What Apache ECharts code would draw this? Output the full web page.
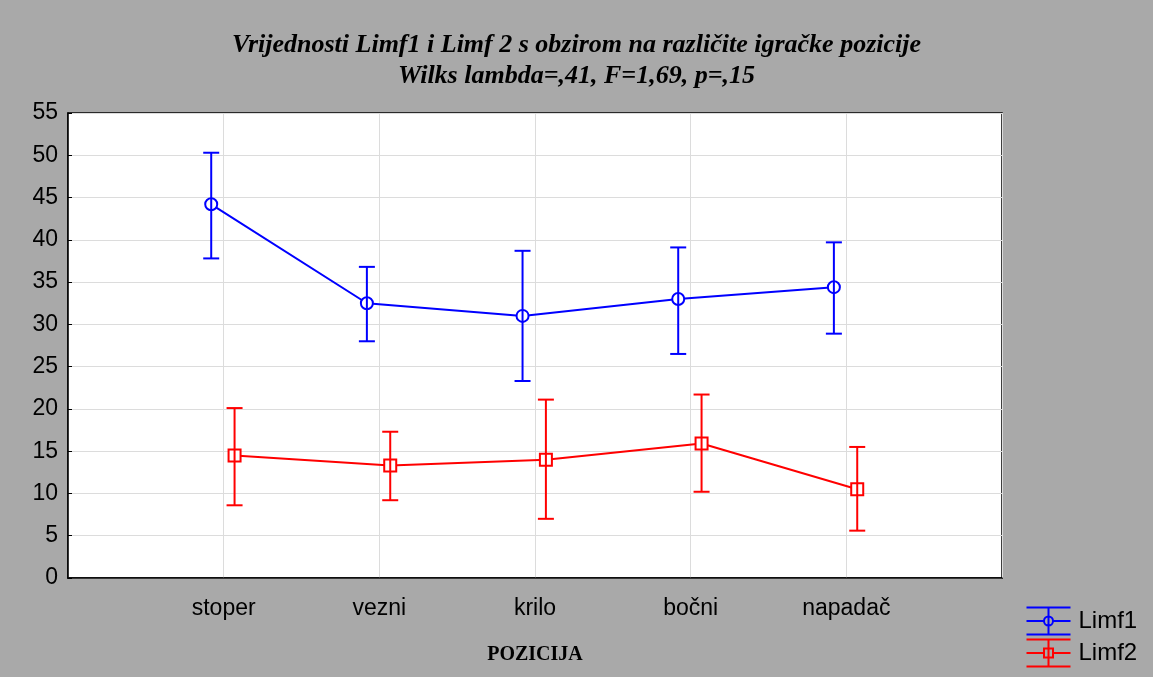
<!DOCTYPE html>
<html>
<head>
<meta charset="utf-8">
<script src="https://cdn.jsdelivr.net/npm/echarts@6/dist/echarts.min.js"></script>
<style>
html,body{margin:0;padding:0;background:#a9a9a9;}
#c{width:1153px;height:677px;}
</style>
</head>
<body>
<div id="c"></div>
<script>
const categories = ['stoper', 'vezni', 'krilo', 'bočni', 'napadač'];
const limf1Mean  = [44.2, 32.5, 31.0, 33.0, 34.4];
const limf1Upper = [50.3, 36.8, 38.7, 39.1, 39.7];
const limf1Lower = [37.8, 28.0, 23.3, 26.5, 28.9];
const limf2Mean  = [14.5, 13.3, 14.0, 15.9, 10.5];
const limf2Upper = [20.1, 17.3, 21.1, 21.7, 15.5];
const limf2Lower = [8.6, 9.2, 7.0, 10.2, 5.6];
const yTicks = [0, 5, 10, 15, 20, 25, 30, 35, 40, 45, 50, 55];

const OFF1 = -0.08, OFF2 = 0.07;

function pts(mean, off) { return mean.map((v, i) => [i + 1 + off, v]); }
function bars(lo, hi, off) { return lo.map((v, i) => [i + 1 + off, v, hi[i]]); }

function errRender(color) {
  return function (params, api) {
    const x = api.value(0);
    const lo = api.coord([x, api.value(1)]);
    const hi = api.coord([x, api.value(2)]);
    const hw = 8;
    const st = { stroke: color, lineWidth: 2 };
    return {
      type: 'group',
      children: [
        { type: 'line', shape: { x1: lo[0], y1: lo[1], x2: hi[0], y2: hi[1] }, style: st },
        { type: 'line', shape: { x1: lo[0] - hw, y1: lo[1], x2: lo[0] + hw, y2: lo[1] }, style: st },
        { type: 'line', shape: { x1: hi[0] - hw, y1: hi[1], x2: hi[0] + hw, y2: hi[1] }, style: st }
      ]
    };
  };
}

const icon1 = 'path://M0,0H44M0,13.5H17.5M26.5,13.5H44M0,27H44M22,0V9M22,18V27M26.5,13.5A4.5,4.5,0,1,1,17.5,13.5A4.5,4.5,0,1,1,26.5,13.5M22,9V18';
const icon2 = 'path://M0,0H44M0,13.5H17.5M26.5,13.5H44M0,27H44M22,0V9M22,18V27M17.5,9H26.5V18H17.5ZM22,9V18';

const chart = echarts.init(document.getElementById('c'));
chart.setOption({
  backgroundColor: '#a9a9a9',
  animation: false,
  title: {
    text: 'Vrijednosti Limf1 i Limf 2 s obzirom na različite igračke pozicije\nWilks lambda=,41, F=1,69, p=,15',
    left: 'center',
    top: 25,
    textStyle: {
      fontFamily: 'Liberation Serif',
      fontStyle: 'italic',
      fontWeight: 'bold',
      fontSize: 26,
      lineHeight: 31,
      color: '#000'
    }
  },
  legend: {
    left: 1024,
    top: 605,
    height: 120,
    padding: 0,
    orient: 'vertical',
    itemWidth: 44,
    itemHeight: 27,
    itemGap: 0,
    textStyle: { fontFamily: 'Liberation Sans', fontSize: 24, color: '#000', lineHeight: 27, padding: [0, 0, 0, 3] },
    data: [
      { name: 'Limf1', icon: icon1, itemStyle: { color: 'none', borderColor: '#0000ff', borderWidth: 2 } },
      { name: 'Limf2', icon: icon2, itemStyle: { color: 'none', borderColor: '#ff0000', borderWidth: 2 } }
    ]
  },
  grid: {
    left: 68, right: 151, top: 113, bottom: 99,
    show: true, backgroundColor: '#ffffff', borderColor: '#000', borderWidth: 1.5
  },
  xAxis: {
    type: 'value', min: 0, max: 6, interval: 1,
    name: 'POZICIJA', nameLocation: 'middle', nameGap: 67,
    nameTextStyle: { fontFamily: 'Liberation Serif', fontWeight: 'bold', fontSize: 20, color: '#000' },
    axisLine: { show: true, onZero: false, lineStyle: { color: '#000', width: 1.5 } },
    axisTick: { show: false },
    axisLabel: {
      fontFamily: 'Liberation Sans', fontSize: 23, color: '#000', margin: 19,
      formatter: v => (v >= 1 && v <= categories.length) ? categories[v - 1] : ''
    },
    splitLine: { show: true, lineStyle: { color: '#dcdcdc', width: 1 } }
  },
  yAxis: {
    type: 'value', min: 0, max: 55, interval: 5,
    axisLine: { show: true, lineStyle: { color: '#000', width: 1.5 } },
    axisTick: { show: true, inside: true, length: 4, lineStyle: { color: '#000' } },
    axisLabel: {
      fontFamily: 'Liberation Sans', fontSize: 23, color: '#000', margin: 10,
      formatter: v => yTicks.indexOf(v) >= 0 ? String(v) : ''
    },
    splitLine: { show: true, lineStyle: { color: '#dcdcdc', width: 1 } }
  },
  series: [
    {
      name: 'Limf1', type: 'line', data: pts(limf1Mean, OFF1),
      symbol: 'circle', symbolSize: 12,
      itemStyle: { color: '#ffffff', borderColor: '#0000ff', borderWidth: 2 },
      lineStyle: { color: '#0000ff', width: 2 }, z: 3
    },
    {
      name: 'Limf1', type: 'custom', data: bars(limf1Lower, limf1Upper, OFF1),
      renderItem: errRender('#0000ff'), encode: { x: 0, y: [1, 2] }, z: 4
    },
    {
      name: 'Limf2', type: 'line', data: pts(limf2Mean, OFF2),
      symbol: 'rect', symbolSize: 12,
      itemStyle: { color: '#ffffff', borderColor: '#ff0000', borderWidth: 2 },
      lineStyle: { color: '#ff0000', width: 2 }, z: 3
    },
    {
      name: 'Limf2', type: 'custom', data: bars(limf2Lower, limf2Upper, OFF2),
      renderItem: errRender('#ff0000'), encode: { x: 0, y: [1, 2] }, z: 4
    }
  ]
});
</script>
</body>
</html>
